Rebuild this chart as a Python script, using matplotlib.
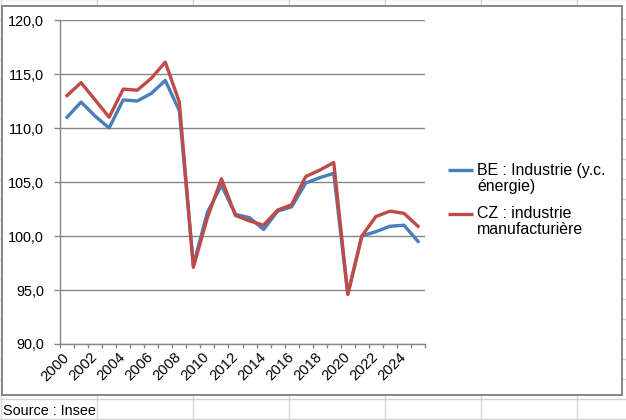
import matplotlib
matplotlib.use("Agg")
import matplotlib.pyplot as plt
from matplotlib.patches import Rectangle

'''*************************************************************
* Data
*************************************************************'''
years = list(range(2000, 2026))
be_values = [111.0, 112.4, 111.1, 110.0, 112.6, 112.5, 113.2, 114.4, 111.6, 97.3,
             102.2, 104.7, 102.0, 101.7, 100.6, 102.3, 102.7, 104.9, 105.4, 105.8,
             94.6, 100.0, 100.4, 100.9, 101.0, 99.5]
cz_values = [113.0, 114.2, 112.6, 111.0, 113.6, 113.5, 114.6, 116.1, 112.4, 97.1,
             101.7, 105.3, 101.9, 101.4, 101.0, 102.4, 102.9, 105.5, 106.1, 106.8,
             94.6, 100.0, 101.8, 102.3, 102.1, 100.9]
y_ticks = [90, 95, 100, 105, 110, 115, 120]
label_years = years[::2]
be_label = "BE : Industrie (y.c.\nénergie)"
cz_label = "CZ : industrie\nmanufacturière"
source_text = "Source : Insee"

'''*************************************************************
* Plot
*************************************************************'''
plt.rcParams['font.family'] = ['Liberation Sans', 'DejaVu Sans']

W, H = 626, 420
fig = plt.figure(figsize=(W / 100, H / 100), dpi=100)
fig.patch.set_facecolor("white")

# spreadsheet background, in pixel coordinates
bg = fig.add_axes([0, 0, 1, 1])
bg.set_xlim(0, W)
bg.set_ylim(H, 0)
bg.axis("off")
cell_col = "#d4d4d4"
for x in [0.5, 96.7, 192.7, 288.7, 384.5, 480.5, 576.7]:
    bg.plot([x, x], [0, H], color=cell_col, lw=1.0)
for r in range(0, 22):
    yy = -0.7 + 20 * r
    bg.plot([0, W], [yy, yy], color=cell_col, lw=1.0)
# chart area
bg.add_patch(Rectangle((2.3, 6), 619.4, 389, facecolor="white",
                       edgecolor="#868686", lw=1.4, zorder=5))
bg.text(3, 415, source_text, fontsize=10.4, va="baseline", ha="left", color="black")

# legend drawn by hand (Excel puts the line on the first text row)
blue = "#4a7ebb"
red = "#be4b48"
bg.plot([448, 473], [170, 170], color=blue, lw=2.4, zorder=6, solid_capstyle="butt")
bg.plot([448, 473], [213.5, 213.5], color=red, lw=2.4, zorder=6, solid_capstyle="butt")
bg.text(477, 163.5, be_label, fontsize=11.4, va="top", ha="left",
        linespacing=1.05, zorder=6)
bg.text(477, 206.5, cz_label, fontsize=11.4, va="top", ha="left",
        linespacing=1.05, zorder=6)

# chart axes
ax = fig.add_axes([60 / W, 1 - 344 / H, 365 / W, 324 / H])
ax.set_facecolor("none")
ax.plot(years, be_values, color=blue, lw=2.4, zorder=3)
ax.plot(years, cz_values, color=red, lw=2.4, zorder=4)

ax.set_xlim(1999.5, 2025.5)
ax.set_ylim(90, 120)
ax.set_yticks(y_ticks)
ax.set_yticklabels(["{:.1f}".format(v).replace(".", ",") for v in y_ticks], fontsize=10.4)
ax.yaxis.grid(True, color="#868686", lw=1.0)
ax.set_axisbelow(True)

ax.set_xticks(label_years)
ax.set_xticklabels([str(y) for y in label_years], rotation=45, ha="right",
                   va="center", rotation_mode="anchor", fontsize=10.6)
ax.set_xticks([y - 0.5 for y in years] + [2025.5], minor=True)
ax.tick_params(axis="x", which="major", length=0, pad=8)
ax.tick_params(axis="x", which="minor", length=3, color="#868686", width=1.0)
ax.tick_params(axis="y", length=4, color="#868686", width=1.0, pad=7.5)

for s in ["top", "right"]:
    ax.spines[s].set_visible(False)
for s in ["left", "bottom"]:
    ax.spines[s].set_color("#868686")
    ax.spines[s].set_linewidth(1.0)

plt.savefig("out.png", dpi=100, facecolor="white")
